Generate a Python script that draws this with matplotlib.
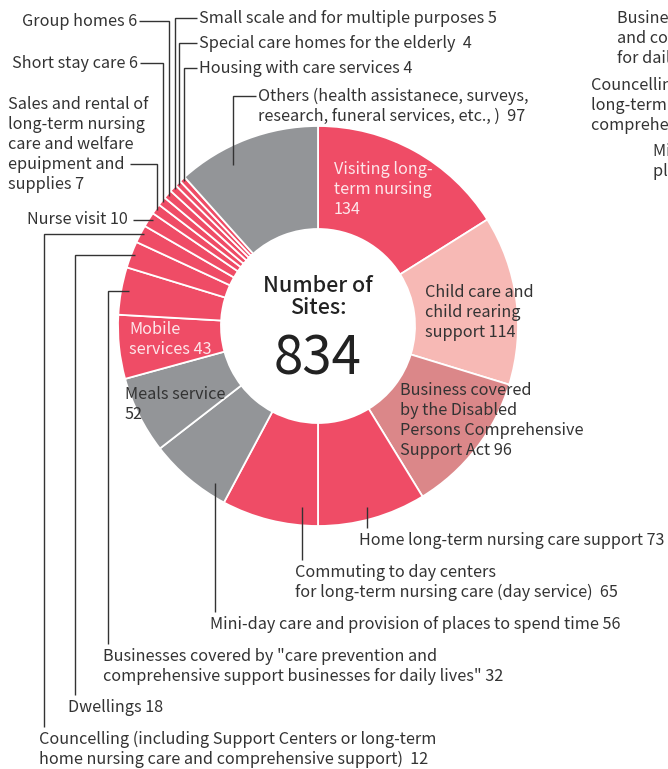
import matplotlib
matplotlib.use('Agg')
import matplotlib.pyplot as plt
import numpy as np

# ---------------- data ----------------
categories = [
    "Visiting long-term nursing",
    "Child care and child rearing support",
    "Business covered by the Disabled Persons Comprehensive Support Act",
    "Home long-term nursing care support",
    "Commuting to day centers for long-term nursing care (day service)",
    "Mini-day care and provision of places to spend time",
    "Meals service",
    "Mobile services",
    "Businesses covered by care prevention and comprehensive support businesses for daily lives",
    "Dwellings",
    "Councelling",
    "Nurse visit",
    "Sales and rental of long-term nursing care and welfare equipment and supplies",
    "Short stay care",
    "Group homes",
    "Small scale and for multiple purposes",
    "Special care homes for the elderly",
    "Housing with care services",
    "Others",
]
values = [134, 114, 96, 73, 65, 56, 52, 43, 32, 18, 12, 10, 7, 6, 6, 5, 4, 4, 97]
color_groups = ["red", "pink", "rose", "red", "red", "gray", "gray", "red", "red", "red",
                "red", "red", "red", "red", "red", "red", "red", "red", "gray"]
label_texts = [
    ["Visiting long-", "term nursing", "134"],
    ["Child care and", "child rearing", "support 114"],
    ["Business covered", "by the Disabled", "Persons Comprehensive", "Support Act 96"],
    ["Home long-term nursing care support 73"],
    ["Commuting to day centers", "for long-term nursing care (day service)  65"],
    ["Mini-day care and provision of places to spend time 56"],
    ["Meals service", "52"],
    ["Mobile", "services 43"],
    ["Businesses covered by \"care prevention and",
     "comprehensive support businesses for daily lives\" 32"],
    ["Dwellings 18"],
    ["Councelling (including Support Centers or long-term",
     "home nursing care and comprehensive support)  12"],
    ["Nurse visit 10"],
    ["Sales and rental of", "long-term nursing", "care and welfare", "epuipment and", "supplies 7"],
    ["Short stay care 6"],
    ["Group homes 6"],
    ["Small scale and for multiple purposes 5"],
    ["Special care homes for the elderly  4"],
    ["Housing with care services 4"],
    ["Others (health assistanece, surveys,", "research, funeral services, etc., )  97"],
]
center_title = ["Number of", "Sites:"]
total_label = str(sum(values))

# partly visible labels of a neighbouring chart (cut at the right edge)
cut_labels = [
    ["Businesses covered by \"care prevention", "and comprehensive support businesses", "for daily lives\""],
    ["Councelling (including Support Centers or", "long-term home nursing care and", "comprehensive support)"],
    ["Mini-day care and provision of", "places to spend time"],
]

PALETTE = {"red": "#EF4C66", "pink": "#F7B9B5", "rose": "#DB8789", "gray": "#939598"}
TXT = "#333333"
WTXT = "#FDE6EA"

plt.rcParams['font.family'] = ['Noto Sans CJK JP', 'DejaVu Sans']

W, H = 668, 769
fig = plt.figure(figsize=(W / 100, H / 100), dpi=100)
ax = fig.add_axes([0, 0, 1, 1])


def Y(py):
    return H - py


CX, CY, R = 318, Y(326), 200
INNER = 0.485
wedges, _ = ax.pie(values, colors=[PALETTE[c] for c in color_groups],
                   startangle=90, counterclock=False, radius=R, center=(CX, CY),
                   wedgeprops=dict(width=R * (1 - INNER), edgecolor='white', linewidth=1.3))
ax.set_xlim(0, W)
ax.set_ylim(0, H)
ax.set_aspect('equal')
ax.axis('off')

FS = 11.7
STEP = 20
DY = 1.5


def label(lines, x, y0, ha='left', color=TXT, size=FS, step=STEP, **kw):
    for i, s in enumerate(lines):
        ax.text(x, Y(y0 + DY + i * step), s, ha=ha, va='center', color=color, fontsize=size, **kw)


# mid angles (clockwise from 12 o'clock)
cum = np.cumsum([0] + values)
total = cum[-1]
mid_deg = 360 * (cum[:-1] + np.array(values) / 2) / total


def pt(i, rfrac):
    th = np.deg2rad(mid_deg[i])
    return CX + R * rfrac * np.sin(th), CY + R * rfrac * np.cos(th)


idx = {c: i for i, c in enumerate(categories)}
LW = 1.0


def line(xs, ys):
    ax.plot(xs, ys, color=TXT, lw=LW, solid_capstyle='butt', solid_joinstyle='miter')


# labels inside the ring
label(label_texts[0], 334, 168, color=WTXT)
label(label_texts[1], 425, 291)
label(label_texts[2], 400, 389)
label(label_texts[7], 129, 328, color=WTXT)
label(label_texts[6], 125, 393)

# bottom labels with vertical leaders
label(label_texts[3], 359, 539, size=11.6)
line([367, 367], [Y(528), Y(507)])
label(label_texts[4], 295, 571)
line([302, 302], [Y(560), Y(507)])
label(label_texts[5], 210, 623)
line([215, 215], [Y(612), Y(483)])

# left-side labels with elbow leaders (vertical column then horizontal into slice)
for name, x_col, ty, tx in [
    ("Businesses covered by care prevention and comprehensive support businesses for daily lives", 108, 655, 103),
    ("Dwellings", 75, 706, 68),
    ("Councelling", 44, 738, 39),
]:
    i = idx[name]
    px, py = pt(i, 1.0)
    ex = px + 8 if name.startswith("Businesses") else px + 4
    line([x_col, x_col, ex], [Y(ty - 11), py, py])
    label(label_texts[i], tx, ty)

# Nurse visit (horizontal only)
i = idx["Nurse visit"]
px, py = pt(i, 1.0)
ax.text(128, py, label_texts[i][0], ha='right', va='center', color=TXT, fontsize=FS)
line([133, px + 4], [py, py])

# top small slices: text -> horizontal -> vertical down to slice
i = idx["Sales and rental of long-term nursing care and welfare equipment and supplies"]
label(label_texts[i], 8, 103)
px, py = pt(i, 0.99)
line([130, px, px], [Y(164), Y(164), py])

for name, ty, tx, ha in [
    ("Short stay care", 62, 138, 'right'),
    ("Group homes", 20, 137, 'right'),
    ("Small scale and for multiple purposes", 17, 199, 'left'),
    ("Special care homes for the elderly", 42, 199, 'left'),
    ("Housing with care services", 67, 199, 'left'),
]:
    i = idx[name]
    px, py = pt(i, 0.99)
    label(label_texts[i], tx, ty, ha=ha)
    x0 = tx + 2 if ha == 'right' else tx - 2
    line([x0, px, px], [Y(ty + 1), Y(ty + 1), py])

# Others
i = idx["Others"]
label(label_texts[i], 258, 95)
line([256, 233, 233], [Y(96), Y(96), Y(165)])

# centre text
for s, yy in zip(center_title, [286, 308]):
    ax.text(CX, Y(yy), s, ha='center', va='center', fontsize=15.5, color='#222222',
            fontweight='medium')
ax.text(CX, Y(359), total_label, ha='center', va='center', fontsize=38, color='#222222')

# cut-off labels at right edge
label(cut_labels[0], 617, 17)
label(cut_labels[1], 591, 84)
label(cut_labels[2], 653, 150)

fig.savefig('out.png', dpi=100)
